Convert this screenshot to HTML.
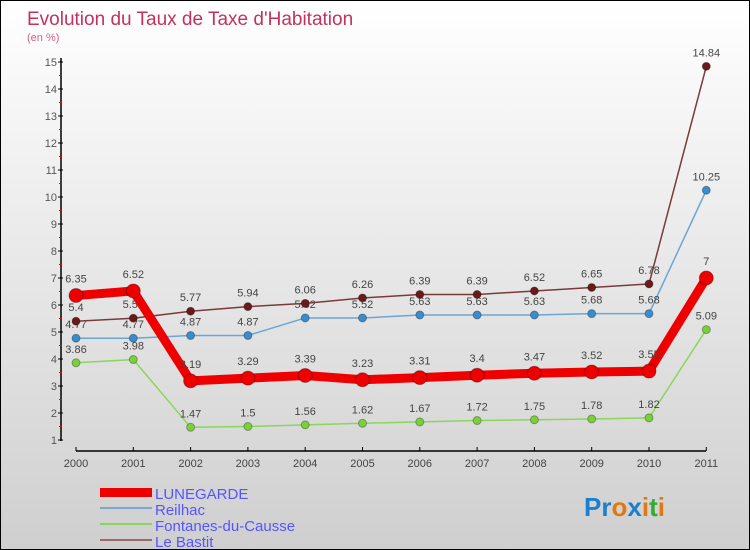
<!DOCTYPE html>
<html><head><meta charset="utf-8"><style>
body{margin:0;}
#wrap{position:relative;width:748px;height:548px;border:1px solid #000;background:linear-gradient(#ffffff,#cfcfcf);overflow:hidden;font-family:"Liberation Sans",sans-serif;}
svg text{font-family:"Liberation Sans",sans-serif;}
</style></head><body>
<div id="wrap">
<svg id="chart" width="748" height="548">
<text x="26" y="24" font-size="19" fill="#c3325f">Evolution du Taux de Taxe d'Habitation</text>
<text x="26" y="40" font-size="11" fill="#d4608a">(en %)</text>
<g id="axes"></g><g id="series"></g>
<g>
<rect x="99" y="487" width="52" height="9" fill="#e00"/>
<text x="154" y="498" font-size="15" fill="#55f">LUNEGARDE</text>
<line x1="99" y1="507" x2="151" y2="507" stroke="#7aa8d0" stroke-width="2"/>
<text x="154" y="514" font-size="15" fill="#55f">Reilhac</text>
<line x1="99" y1="523" x2="151" y2="523" stroke="#8ad65a" stroke-width="2"/>
<text x="154" y="530" font-size="15" fill="#55f">Fontanes-du-Causse</text>
<line x1="99" y1="539" x2="151" y2="539" stroke="#9a6a6a" stroke-width="2"/>
<text x="154" y="546" font-size="15" fill="#55f">Le Bastit</text>
</g>
<g font-size="26" font-weight="bold">
<text x="583" y="515"><tspan fill="#1a7fd0">P</tspan><tspan fill="#1a7fd0">r</tspan><tspan fill="#e07a10">o</tspan><tspan fill="#1a7fd0">x</tspan><tspan fill="#e07a10">i</tspan><tspan fill="#3a3">t</tspan><tspan fill="#e07a10">i</tspan></text>
</g>
</svg>
</div>
<script>
const years=["2000","2001","2002","2003","2004","2005","2006","2007","2008","2009","2010","2011"];
const yTicks=[1,2,3,4,5,6,7,8,9,10,11,12,13,14,15];
const lunegarde=[6.35,6.52,3.19,3.29,3.39,3.23,3.31,3.4,3.47,3.52,3.55,7];
const reilhac=[4.77,4.77,4.87,4.87,5.52,5.52,5.63,5.63,5.63,5.68,5.68,10.25];
const fontanes=[3.86,3.98,1.47,1.5,1.56,1.62,1.67,1.72,1.75,1.78,1.82,5.09];
const bastit=[5.4,5.51,5.77,5.94,6.06,6.26,6.39,6.39,6.52,6.65,6.78,14.84];
const NS="http://www.w3.org/2000/svg";
function xS(i){return 75+i*57.3;}
function yS(v){return 439-(v-1)*27;}
function mk(t,a,p){const e=document.createElementNS(NS,t);for(const k in a)e.setAttribute(k,a[k]);p.appendChild(e);return e;}
const ax=document.getElementById('axes');
const yl=mk('line',{x1:60,y1:57,x2:60,y2:440,stroke:'#000','stroke-width':1.5},ax);


const xl=mk('line',{x1:75,y1:450,x2:705,y2:450,stroke:'#000','stroke-width':1.5},ax);


yTicks.forEach(v=>{
  mk('line',{x1:57,y1:yS(v),x2:62,y2:yS(v),stroke:'#000'},ax);
  if(v<15)mk('line',{x1:58,y1:yS(v+0.5),x2:61,y2:yS(v+0.5),stroke:'#e00'},ax);
  const t=mk('text',{x:56,y:yS(v)+4,'font-size':11,fill:'#555','text-anchor':'end'},ax);
  t.textContent=v;
  
  
});
years.forEach((y,i)=>{
  mk('line',{x1:xS(i),y1:446,x2:xS(i),y2:450,stroke:'#000'},ax);
  const t=mk('text',{x:xS(i),y:466,'font-size':11,fill:'#444','text-anchor':'middle'},ax);
  t.textContent=y;
  
  
});
const sg=document.getElementById('series');
function draw(data,name,color,dot,w,r,labels){
  const g=mk('g',{},sg);
  
  
  mk('polyline',{points:data.map((v,i)=>xS(i)+','+yS(v)).join(' '),fill:'none',stroke:color,'stroke-width':w,'stroke-linejoin':'round'},g);
  data.forEach((v,i)=>{
    const c=mk('circle',{cx:xS(i),cy:yS(v),r:r,fill:dot,stroke:'rgba(0,0,0,0.3)','stroke-width':1},g);
    
    
    if(labels){
      const t=mk('text',{x:xS(i),y:yS(v)-(r+6),'font-size':11,fill:'#444','text-anchor':'middle'},g);
      t.textContent=v;
      
      
    }
  });
}
draw(fontanes,'fontanes','#8ad65a','#7ccf3c',1.5,4,true);
draw(reilhac,'reilhac','#6aa6d6','#3a8ccc',1.5,4,true);
draw(bastit,'le-bastit','#7a3a3a','#6a1a1a',1.5,4,true);
draw(lunegarde,'lunegarde','#ee0000','#ee0000',9,7,true);
</script>
</body></html>
